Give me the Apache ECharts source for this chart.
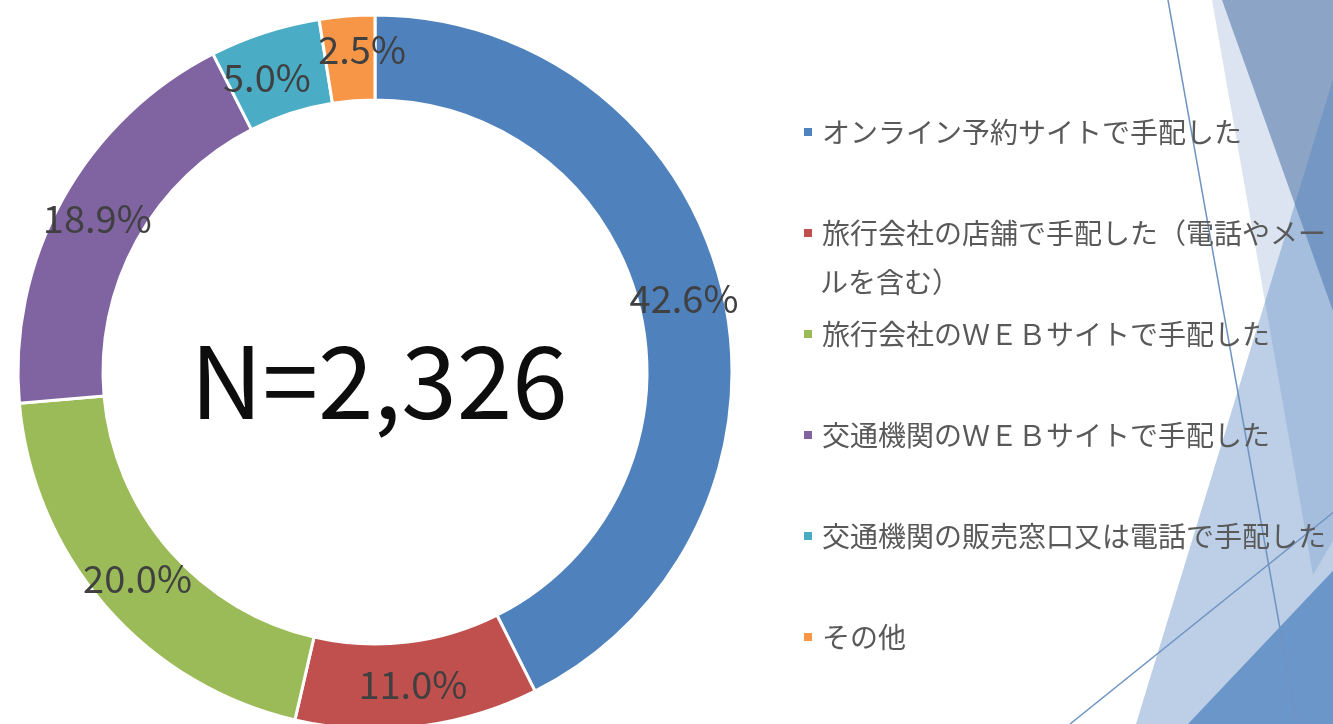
<!DOCTYPE html>
<html><head><meta charset="utf-8">
<script src="https://cdn.jsdelivr.net/npm/echarts@6/dist/echarts.min.js"></script>
<style>html,body{margin:0;padding:0;background:#fff;overflow:hidden}#c{width:1333px;height:724px}</style>
</head><body><div id="c"></div>
<script>
const categories = [
  'オンライン予約サイトで手配した',
  '旅行会社の店舗で手配した（電話やメールを含む）',
  '旅行会社のＷＥＢサイトで手配した',
  '交通機関のＷＥＢサイトで手配した',
  '交通機関の販売窓口又は電話で手配した',
  'その他'
];
const shares = [42.6, 11.0, 20.0, 18.9, 5.0, 2.5];
const sampleSize = 'N=2,326';
const wrapAt = 18; // legend line break position for long label

const colors = ['#4F81BD', '#C0504D', '#9BBB59', '#8064A2', '#4BACC6', '#F79646'];
const labelOffsets = [[0, 0], [0, -3], [2, -2], [0, 0], [-10, 8], [12, -6]];
const FONT = '"Noto Sans CJK JP", "Noto Sans", sans-serif';

const chart = echarts.init(document.getElementById('c'), null, {renderer: 'canvas'});

const longName = categories.find(n => n.length > wrapAt);
const bgLine = {stroke: '#6f94c2', lineWidth: 1.5};

chart.setOption({
  backgroundColor: '#ffffff',
  animation: false,
  color: colors,
  legend: {
    orient: 'vertical',
    left: 797,
    top: 110,
    icon: 'rect',
    itemWidth: 10,
    itemHeight: 10,
    itemGap: 67,
    selectedMode: false,
    data: categories,
    formatter: n => n.length > wrapAt ? n.slice(0, wrapAt) : n,
    textStyle: {fontFamily: FONT, fontSize: 28, color: '#595959', lineHeight: 34, padding: [0, 0, 0, 4]}
  },
  graphic: [
    {type: 'polygon', z: 0, silent: true, shape: {points: [[1212,0],[1313,575],[1345,520],[1345,0]]}, style: {fill: '#dbe4f0'}},
    {type: 'polygon', z: 0, silent: true, shape: {points: [[1222,0],[1345,0],[1345,345]]}, style: {fill: '#8ca5c7'}},
    {type: 'polygon', z: 0, silent: true, shape: {points: [[1345,40],[1345,724],[1136,724]]}, style: {fill: 'rgba(79,129,189,0.38)'}},
    {type: 'polygon', z: 0, silent: true, shape: {points: [[1345,558],[1345,724],[1188,724]]}, style: {fill: '#6b96c9'}},
    {type: 'line', z: 1, silent: true, shape: {x1: 1168, y1: 0, x2: 1297, y2: 724}, style: bgLine},
    {type: 'line', z: 1, silent: true, shape: {x1: 1070, y1: 724, x2: 1345, y2: 503}, style: bgLine},
    {type: 'text', z: 10, left: 820, top: 268, style: {text: longName ? longName.slice(wrapAt) : '', font: '28px ' + FONT, fill: '#595959'}},
    {type: 'text', z: 10, x: 379, y: 381, style: {text: sampleSize, font: '100px ' + FONT, fill: '#0d0d0d', textAlign: 'center', textVerticalAlign: 'middle'}}
  ],
  series: [{
    type: 'pie',
    center: [375, 372],
    radius: [272, 357],
    startAngle: 90,
    clockwise: true,
    avoidLabelOverlap: false,
    labelLayout: {hideOverlap: false},
    itemStyle: {borderColor: '#ffffff', borderWidth: 3},
    label: {
      show: true,
      position: 'inside',
      formatter: p => p.value.toFixed(1) + '%',
      fontFamily: FONT,
      fontSize: 38,
      color: '#404040'
    },
    labelLine: {show: false},
    emphasis: {disabled: true},
    data: categories.map((n, i) => ({name: n, value: shares[i], label: {offset: labelOffsets[i]}}))
  }]
});
</script></body></html>
